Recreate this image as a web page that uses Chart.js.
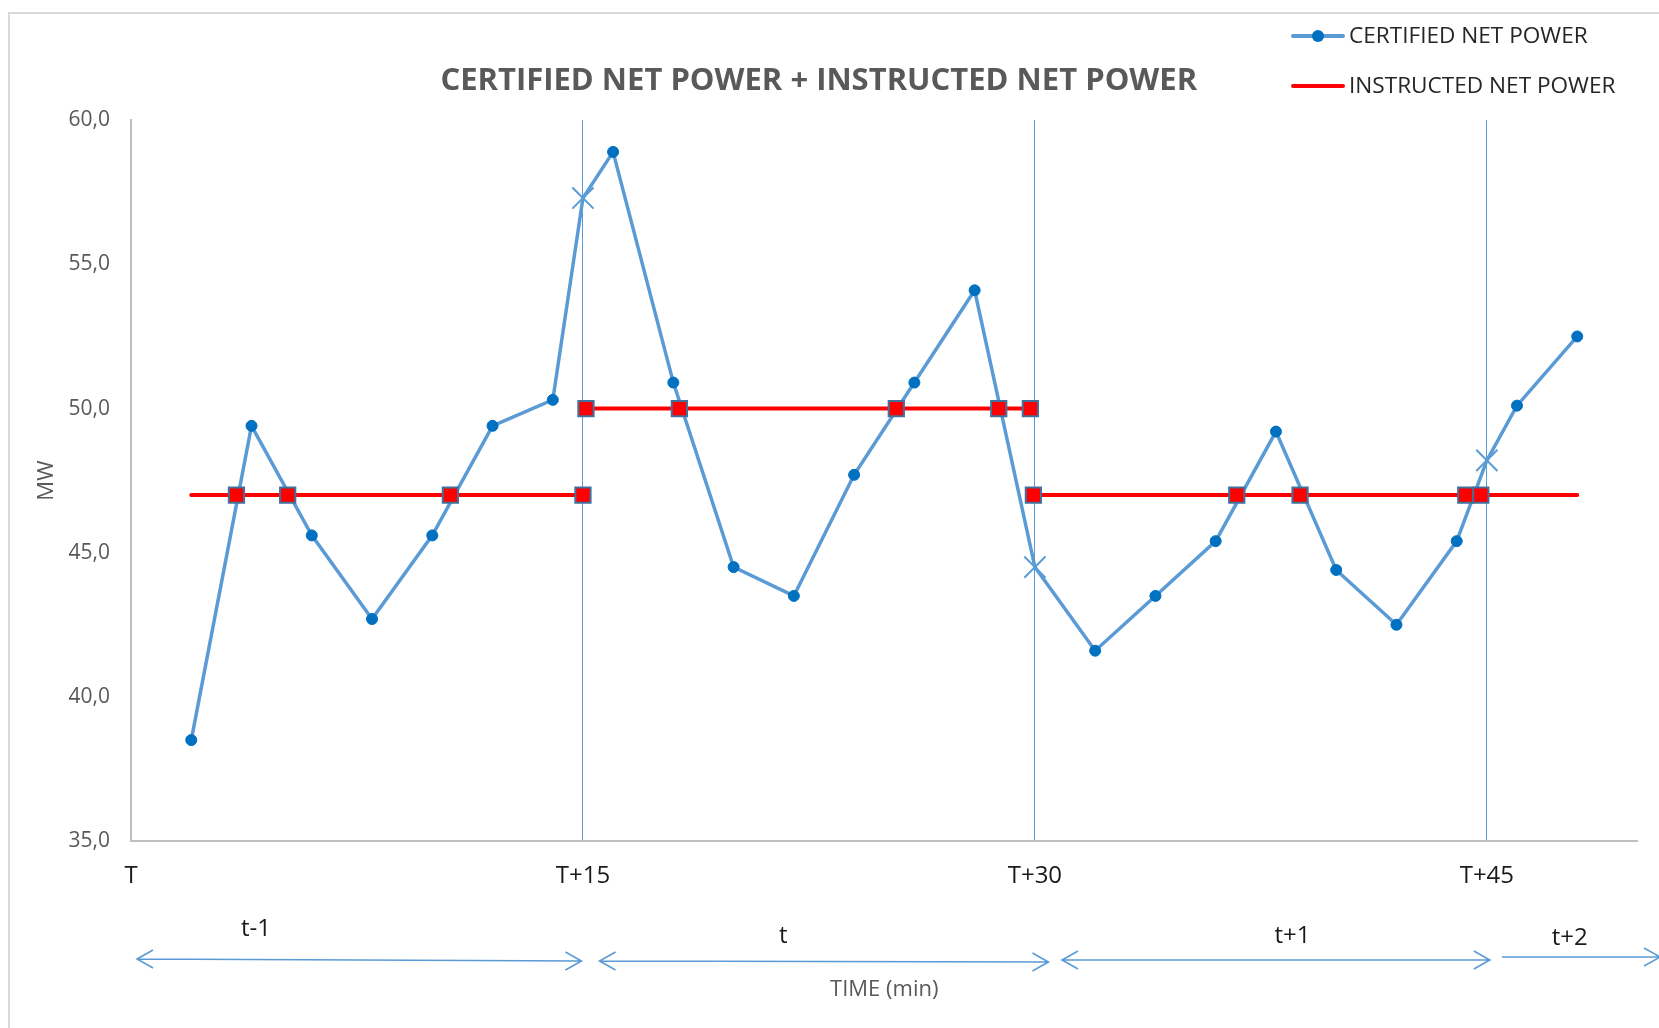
<!DOCTYPE html>
<html>
<head>
<meta charset="utf-8">
<title>Certified net power + instructed net power</title>
<script src="https://cdn.jsdelivr.net/npm/chart.js@4.4.1/dist/chart.umd.min.js"></script>
<style>
  html, body { margin: 0; padding: 0; background: #fff; }
  #wrap { position: relative; width: 1659px; height: 1028px; }
</style>
</head>
<body>
<div id="wrap"><canvas id="chartCanvas"></canvas></div>
<script>
// --- values (minutes after T, MW) ---
const minutes = [2, 4, 6, 8, 10, 12, 14, 15, 16, 18, 20, 22, 24, 26, 28, 30, 32, 34, 36, 38, 40, 42, 44, 45, 46, 48];
const certifiedMW = [38.5, 49.4, 45.6, 42.7, 45.6, 49.4, 50.3, 57.3, 58.9, 50.9, 44.5, 43.5, 47.7, 50.9, 54.1, 44.5, 41.6, 43.5, 45.4, 49.2, 44.4, 42.5, 45.4, 48.2, 50.1, 52.5];

// instructed level, one flat step per quarter hour
const stepStart = [2, 15.1, 29.95];
const stepEnd = [15, 29.85, 48];
const stepMW = [47, 50, 47];

// red squares (crossings and step changes)
const squareMin = [3.5, 5.2, 10.6, 15, 15.1, 18.2, 25.4, 28.8, 29.85, 29.95, 36.7, 38.8, 44.3, 44.8];
const squareMW = [47, 47, 47, 47, 50, 50, 50, 50, 50, 47, 47, 47, 47, 47];

// x axis
const tickMin = [0, 15, 30, 45];
const tickLabels = ["T", "T+15", "T+30", "T+45"];
const quarterMarks = [15, 30, 45];

// settlement periods under the axis
const periodNames = ["t-1", "t", "t+1", "t+2"];

const FONT = "Open Sans";
const BLUE = "#5B9BD5";

// --- build datasets ---
const certifiedPoints = minutes.map((m, i) => ({ x: m, y: certifiedMW[i] }));

const instructedPoints = [];
stepStart.forEach((s, i) => {
  instructedPoints.push({ x: s, y: stepMW[i] }, { x: stepEnd[i], y: stepMW[i] });
  if (i < stepStart.length - 1) {
    instructedPoints.push({ x: (stepEnd[i] + stepStart[i + 1]) / 2, y: null });
  }
});

const squarePoints = squareMin.map((m, i) => ({ x: m, y: squareMW[i] }));

const isQuarter = c => quarterMarks.includes(minutes[c.dataIndex]);

// --- plugins: frame, legend, period arrows ---
const framePlugin = {
  id: "frame",
  beforeDraw(chart) {
    const { ctx } = chart;
    ctx.save();
    ctx.fillStyle = "#fff";
    ctx.fillRect(0, 0, chart.width, chart.height);
    ctx.strokeStyle = "#D9D9D9";
    ctx.lineWidth = 2;
    ctx.strokeRect(9, 13, 1800, 1200);
    ctx.restore();
  }
};

const legendPlugin = {
  id: "cornerLegend",
  afterDraw(chart) {
    const { ctx } = chart;
    ctx.save();
    ctx.lineCap = "round";
    // certified
    ctx.strokeStyle = BLUE;
    ctx.lineWidth = 4;
    ctx.beginPath(); ctx.moveTo(1293, 36); ctx.lineTo(1343, 36); ctx.stroke();
    ctx.fillStyle = "#0070C0";
    ctx.beginPath(); ctx.arc(1318, 36, 6, 0, Math.PI * 2); ctx.fill();
    // instructed
    ctx.strokeStyle = "#FF0000";
    ctx.beginPath(); ctx.moveTo(1293, 86); ctx.lineTo(1343, 86); ctx.stroke();

    ctx.fillStyle = "#262626";
    ctx.font = `22.6px "${FONT}"`;
    ctx.textBaseline = "middle";
    ctx.fillText(chart.data.datasets[0].label, 1349, 37);
    ctx.fillText(chart.data.datasets[1].label, 1349, 87);
    ctx.restore();
  }
};

// arrow spans in minutes, label anchors in minutes
const arrowFrom = [0.2, 15.55, 30.9, 45.5];
const arrowTo = [14.95, 30.45, 45.1, 50.75];
const arrowY = [[959, 961], [961, 962], [960, 960], [957, 957]];
const labelMin = [4.15, 21.65, 38.55, 47.75];
const labelY = [929, 936, 936, 938];

function chevron(ctx, x, y, dir) {
  ctx.moveTo(x - dir * 16, y - 9);
  ctx.lineTo(x, y);
  ctx.lineTo(x - dir * 16, y + 9);
}

const periodPlugin = {
  id: "periods",
  afterDraw(chart) {
    const { ctx } = chart;
    const x = chart.scales.x;
    ctx.save();
    ctx.strokeStyle = BLUE;
    ctx.lineWidth = 1.6;
    periodNames.forEach((name, i) => {
      const x0 = x.getPixelForValue(arrowFrom[i]);
      const x1 = x.getPixelForValue(arrowTo[i]);
      const [y0, y1] = arrowY[i];
      ctx.beginPath();
      ctx.moveTo(x0, y0);
      ctx.lineTo(x1, y1);
      if (i < periodNames.length - 1) chevron(ctx, x0, y0, -1);
      chevron(ctx, x1, y1, 1);
      ctx.stroke();
    });
    ctx.fillStyle = "#1a1a1a";
    ctx.font = `24px "${FONT}"`;
    ctx.textAlign = "center";
    ctx.textBaseline = "middle";
    periodNames.forEach((name, i) => {
      ctx.fillText(name, x.getPixelForValue(labelMin[i]), labelY[i]);
    });
    ctx.restore();
  }
};

// --- chart ---
const canvas = document.getElementById("chartCanvas");

new Chart(canvas, {
  type: "line",
  data: {
    datasets: [
      {
        label: "CERTIFIED NET POWER",
        data: certifiedPoints,
        borderColor: BLUE,
        borderWidth: 3.5,
        tension: 0,
        pointStyle: c => isQuarter(c) ? "crossRot" : "circle",
        pointRadius: c => isQuarter(c) ? 15 : 5.5,
        pointBackgroundColor: "#0070C0",
        pointBorderColor: c => isQuarter(c) ? BLUE : "#0070C0",
        pointBorderWidth: c => isQuarter(c) ? 2 : 1,
        order: 3
      },
      {
        label: "INSTRUCTED NET POWER",
        data: instructedPoints,
        borderColor: "#FF0000",
        borderWidth: 4,
        borderCapStyle: "round",
        pointRadius: 0,
        spanGaps: false,
        order: 2
      },
      {
        label: "crossings",
        data: squarePoints,
        showLine: false,
        pointStyle: "rect",
        pointRadius: 10.8,
        pointBackgroundColor: "#FF0000",
        pointBorderColor: "#41719C",
        pointBorderWidth: 2,
        order: 1
      }
    ]
  },
  options: {
    responsive: true,
    maintainAspectRatio: false,
    devicePixelRatio: 1,
    animation: false,
    layout: { padding: { left: 0, right: 21.5, top: 0, bottom: 0 } },
    plugins: {
      legend: { display: false },
      tooltip: { enabled: false },
      title: {
        display: true,
        text: "CERTIFIED NET POWER + INSTRUCTED NET POWER",
        color: "#595959",
        font: { family: FONT, size: 31, weight: "bold", lineHeight: 1.2 },
        padding: { top: 63, bottom: 20 }
      }
    },
    scales: {
      x: {
        type: "linear",
        min: 0,
        max: 50,
        afterBuildTicks(s) { s.ticks = tickMin.map(v => ({ value: v })); },
        afterFit(s) { s.height = 187; },
        ticks: {
          padding: 21,
          color: "#1a1a1a",
          font: { family: FONT, size: 24 },
          maxRotation: 0,
          autoSkip: false,
          callback: (v, i) => tickLabels[i]
        },
        grid: {
          drawTicks: false,
          lineWidth: 1,
          color: c => (c.tick && c.tick.value === 0) ? "rgba(0,0,0,0)" : BLUE
        },
        border: { color: "#BFBFBF", width: 2 },
        title: {
          display: true,
          text: "TIME (min)",
          color: "#595959",
          font: { family: FONT, size: 22 },
          padding: { top: 0, bottom: 25 }
        }
      },
      y: {
        min: 35,
        max: 60,
        afterFit(s) { s.width = 131; },
        ticks: {
          stepSize: 5,
          padding: 21,
          color: "#595959",
          font: { family: FONT, size: 21 },
          callback: v => v.toFixed(1).replace(".", ",")
        },
        grid: { drawOnChartArea: false, drawTicks: false },
        border: { color: "#BFBFBF", width: 2 },
        title: {
          display: true,
          text: "MW",
          color: "#595959",
          font: { family: FONT, size: 22 },
          padding: { top: 34, bottom: 0 }
        }
      }
    }
  },
  plugins: [framePlugin, legendPlugin, periodPlugin]
});
</script>
</body>
</html>
